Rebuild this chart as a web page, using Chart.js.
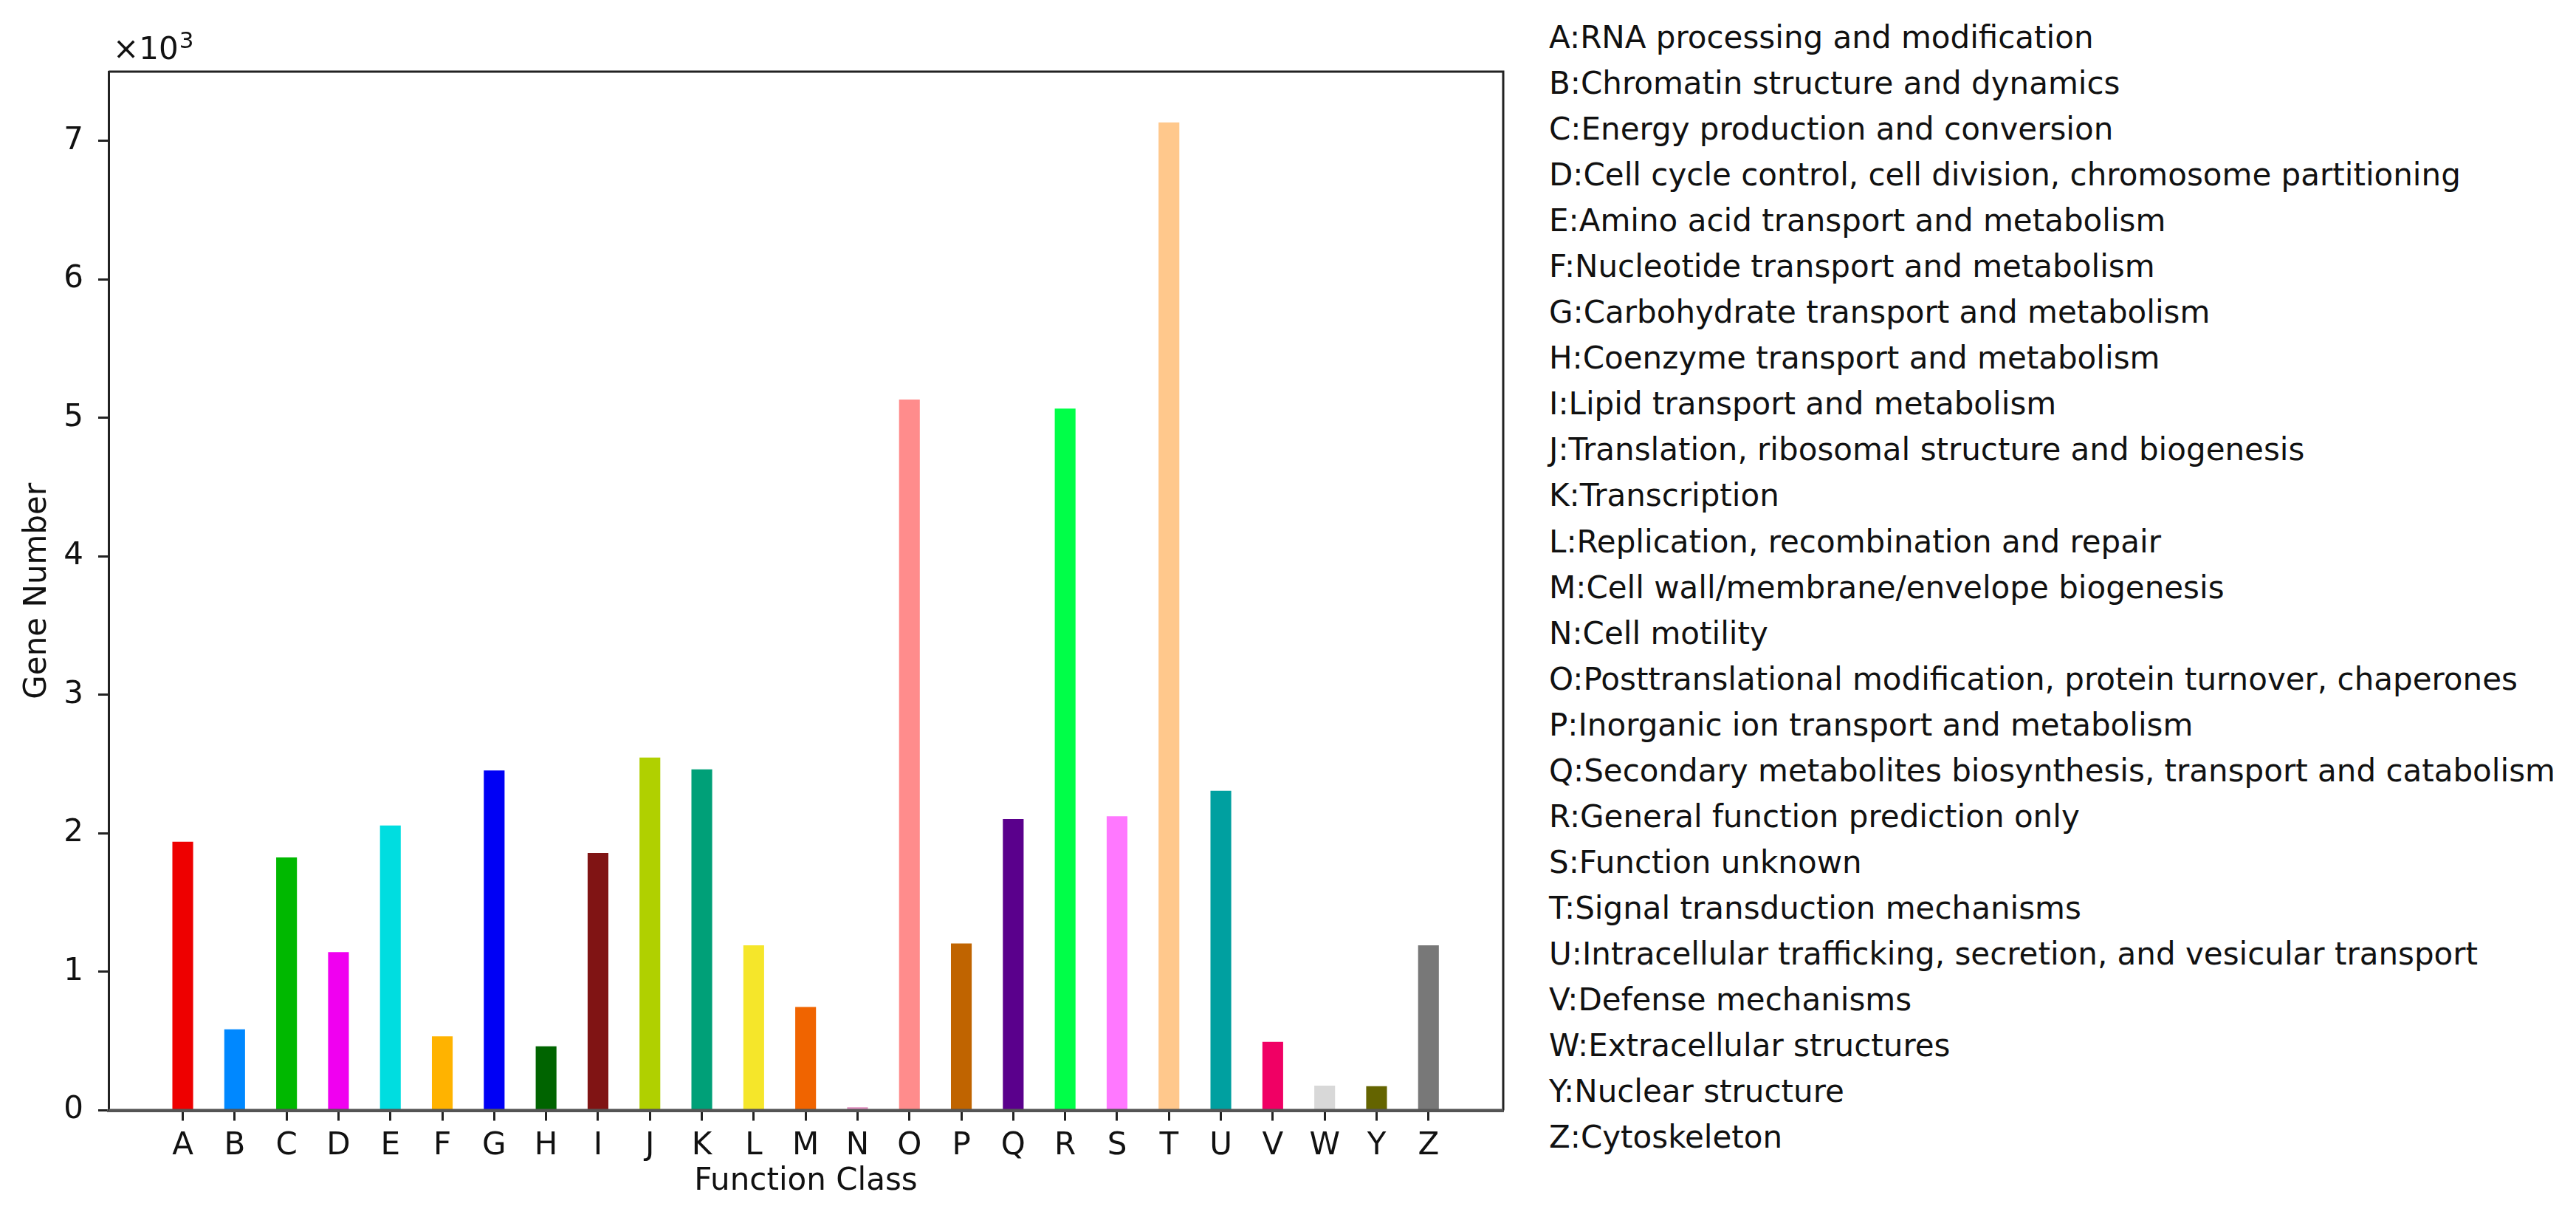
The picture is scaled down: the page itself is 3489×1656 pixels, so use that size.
<!DOCTYPE html>
<html>
<head>
<meta charset="utf-8">
<script src="https://cdn.jsdelivr.net/npm/chart.js@4.4.1/dist/chart.umd.min.js"></script>
<style>
  html, body { margin: 0; padding: 0; background: #fff; }
  body { width: 3489px; height: 1656px; position: relative; overflow: hidden;
         font-family: 'DejaVu Sans', sans-serif; color: #111; }
  #plot { position: absolute; left: 0; top: 0; width: 2080px; height: 1656px; }
  #mult { position: absolute; left: 153px; top: 45px; font-size: 42px; line-height: 42px; white-space: nowrap; }
  #mult sup { font-size: 31px; position: relative; top: -12px; vertical-align: top; margin-left: 1px; }
  #classes { position: absolute; left: 2098px; top: 20px; font-size: 42px; line-height: 62.04px; white-space: nowrap; }
</style>
</head>
<body>
<canvas id="plot" width="2080" height="1656"></canvas>
<div id="mult">×10<sup>3</sup></div>
<div id="classes"></div>
<script>
var CLASS_CODES = ['A', 'B', 'C', 'D', 'E', 'F', 'G', 'H', 'I', 'J', 'K', 'L', 'M',
  'N', 'O', 'P', 'Q', 'R', 'S', 'T', 'U', 'V', 'W', 'Y', 'Z'];

var CLASS_NAMES = [
  'RNA processing and modification',
  'Chromatin structure and dynamics',
  'Energy production and conversion',
  'Cell cycle control, cell division, chromosome partitioning',
  'Amino acid transport and metabolism',
  'Nucleotide transport and metabolism',
  'Carbohydrate transport and metabolism',
  'Coenzyme transport and metabolism',
  'Lipid transport and metabolism',
  'Translation, ribosomal structure and biogenesis',
  'Transcription',
  'Replication, recombination and repair',
  'Cell wall/membrane/envelope biogenesis',
  'Cell motility',
  'Posttranslational modification, protein turnover, chaperones',
  'Inorganic ion transport and metabolism',
  'Secondary metabolites biosynthesis, transport and catabolism',
  'General function prediction only',
  'Function unknown',
  'Signal transduction mechanisms',
  'Intracellular trafficking, secretion, and vesicular transport',
  'Defense mechanisms',
  'Extracellular structures',
  'Nuclear structure',
  'Cytoskeleton',
];

var GENE_COUNTS = [1940, 585, 1826, 1143, 2057, 534, 2454, 462, 1858, 2547, 2462, 1192, 747,
  23, 5133, 1205, 2104, 5067, 2123, 7134, 2307, 494, 178, 174, 1192];

var BAR_COLORS = ['#ee0000', '#0088ff', '#00b800', '#f000f0', '#00dde0', '#ffb300', '#0000f5',
  '#006400', '#801414', '#b0d000', '#00a078', '#f5e62a', '#f06400', '#e090c0', '#ff8c8c',
  '#c06400', '#5a008c', '#00ff48', '#ff78ff', '#ffc88c', '#00a0a0', '#f00064', '#d8d8d8',
  '#646400', '#787878'];

var Y_TICKS = [0, 1000, 2000, 3000, 4000, 5000, 6000, 7000];

var FONT = { family: "'DejaVu Sans', sans-serif", size: 42 };
var INK = '#111';

// class descriptions on the right
document.getElementById('classes').innerHTML = CLASS_CODES.map(function (c, i) {
  return '<div>' + c + ':' + CLASS_NAMES[i] + '</div>';
}).join('');

// matplotlib-like box: top/right spines plus the grey zero line
var framePlugin = {
  id: 'frame',
  afterDatasetsDraw: function (chart) {
    var a = chart.chartArea, ctx = chart.ctx;
    ctx.save();
    ctx.strokeStyle = '#222';
    ctx.lineWidth = 3;
    ctx.beginPath();
    ctx.moveTo(a.left, a.top);
    ctx.lineTo(a.right, a.top);
    ctx.lineTo(a.right, a.bottom);
    ctx.stroke();
    ctx.strokeStyle = '#555';
    ctx.lineWidth = 4;
    ctx.beginPath();
    ctx.moveTo(a.left, a.bottom);
    ctx.lineTo(a.right, a.bottom);
    ctx.stroke();
    ctx.restore();
  },
};

new Chart(document.getElementById('plot'), {
  type: 'bar',
  data: {
    datasets: [{
      data: CLASS_CODES.map(function (c, i) { return { x: i, y: GENE_COUNTS[i] }; }),
      backgroundColor: BAR_COLORS,
      borderWidth: 0,
      barPercentage: 0.4,
      categoryPercentage: 1,
    }],
  },
  options: {
    responsive: false,
    animation: false,
    devicePixelRatio: 1,
    layout: { padding: { top: 97, right: 44, left: 0, bottom: 0 } },
    plugins: { legend: { display: false }, tooltip: { enabled: false } },
    scales: {
      x: {
        type: 'linear',
        offset: false,
        min: -1.43,
        max: 25.44,
        afterBuildTicks: function (axis) {
          axis.ticks = CLASS_CODES.map(function (_, i) { return { value: i }; });
        },
        afterFit: function (axis) { axis.height = 152.5; },
        ticks: {
          callback: function (v) { return CLASS_CODES[v]; },
          font: FONT, color: INK, padding: 9, maxRotation: 0, autoSkip: false,
        },
        grid: { offset: false, drawOnChartArea: false, tickLength: 14, tickWidth: 3, tickColor: '#222' },
        border: { color: '#555', width: 4 },
        title: { display: true, text: 'Function Class', font: FONT, color: INK, padding: { top: 0, bottom: 31 } },
      },
      y: {
        min: 0,
        max: 7500,
        afterBuildTicks: function (axis) {
          axis.ticks = Y_TICKS.map(function (v) { return { value: v }; });
        },
        afterFit: function (axis) { axis.width = 147; },
        ticks: {
          callback: function (v) { return v / 1000; },
          font: FONT, color: INK, padding: 20,
        },
        grid: { drawOnChartArea: false, tickLength: 14, tickWidth: 3, tickColor: '#222' },
        border: { color: '#222', width: 3 },
        title: { display: true, text: 'Gene Number', font: FONT, color: INK, padding: { top: 26, bottom: 0 } },
      },
    },
  },
  plugins: [framePlugin],
});
</script>
</body>
</html>
